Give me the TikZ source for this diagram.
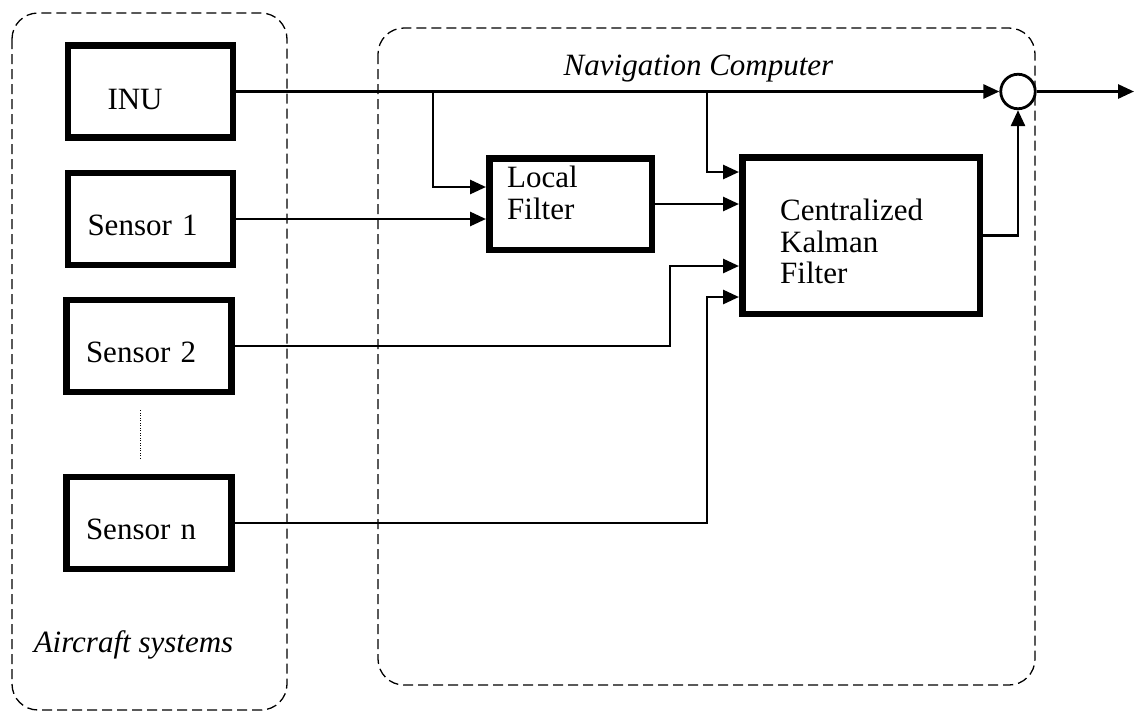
\documentclass[tikz,border=0pt]{standalone}
\usepackage{fontspec}
\setmainfont{Liberation Serif}
\usetikzlibrary{arrows.meta}

\begin{document}
\begin{tikzpicture}[x=1pt,y=-1pt,
  font=\fontsize{31}{31.5}\selectfont,
  panel/.style={draw,dash pattern=on 10pt off 5pt,line width=1.3pt,rounded corners=26pt},
  blk/.style={draw,line width=6.5pt,rectangle,inner sep=0pt},
  sysbox/.style={blk,minimum width=165pt,minimum height=92pt,text width=126pt,
    align=left,inner xsep=19.5pt,inner ysep=0pt,text height=33pt,text depth=0pt},
  wire/.style={line width=2.8pt},
  feed/.style={wire,-{Triangle[length=16pt,width=14pt]}},
  caption/.style={font=\fontsize{31}{31.5}\selectfont\itshape,inner sep=0pt},
  txt/.style={inner sep=0pt,align=left,anchor=north west}]

\useasboundingbox (0,0) rectangle (1135,713);

% dashed enclosures
\draw[panel] (12,13) rectangle (287,710);
\draw[panel] (378,28) rectangle (1035,685);

\node[caption,anchor=base] (navlbl) at (698.5,75) {Navigation Computer};
\node[caption,anchor=base] (acslbl) at (133.5,652) {Aircraft systems};

% aircraft systems
\node[sysbox,text height=35pt] (inu) at (150.5,91.5) {\hspace*{20pt}INU};
\node[sysbox] (s1) at (150.5,219) {Sensor 1};
\node[sysbox] (s2) at (149,346) {Sensor 2};
\node[sysbox] (sn) at (149,523) {Sensor n};
\draw[dash pattern=on 1pt off 1.5pt,line width=0.8pt]
  ([xshift=-9pt,yshift=-15pt]s2.south) -- ([xshift=-9pt,yshift=15pt]sn.north);

% navigation computer
\node[blk,minimum width=162.5pt,minimum height=91.5pt] (lf) at (570.5,204) {};
\node[txt] (lftext) at (507,165.8) {Local\\Filter};
\node[blk,minimum width=237.5pt,minimum height=156.5pt] (ck) at (861,235.5) {};
\node[txt] (cktext) at (780,198.8) {Centralized\\Kalman\\Filter};
\node[circle,draw,line width=2.8pt,minimum size=34.5pt,inner sep=0pt] (sum) at (1018,91.5) {};

\coordinate (j1) at (433,91.5);
\coordinate (j2) at (707,91.5);
\coordinate (out) at (1134,91.5);

% signal paths
\draw[feed] (inu.east) -- (sum.west);
\draw[feed] (j1) |- ([yshift=17pt]lf.west);
\draw[feed] (s1.east) -- (s1.east -| lf.west);
\draw[feed] (j2) |- ([yshift=63.5pt]ck.west);
\draw[feed] (lf.east) -- (lf.east -| ck.west);
\draw[feed] (s2.east) -- (s2.east -| 670,0) |- ([yshift=-30.5pt]ck.west);
\draw[feed] (sn.east) -- (sn.east -| j2) |- ([yshift=-61.5pt]ck.west);
\draw[feed] (ck.east) -| (sum.south);
\draw[feed] (sum.east) -- (out);
\end{tikzpicture}
\end{document}
